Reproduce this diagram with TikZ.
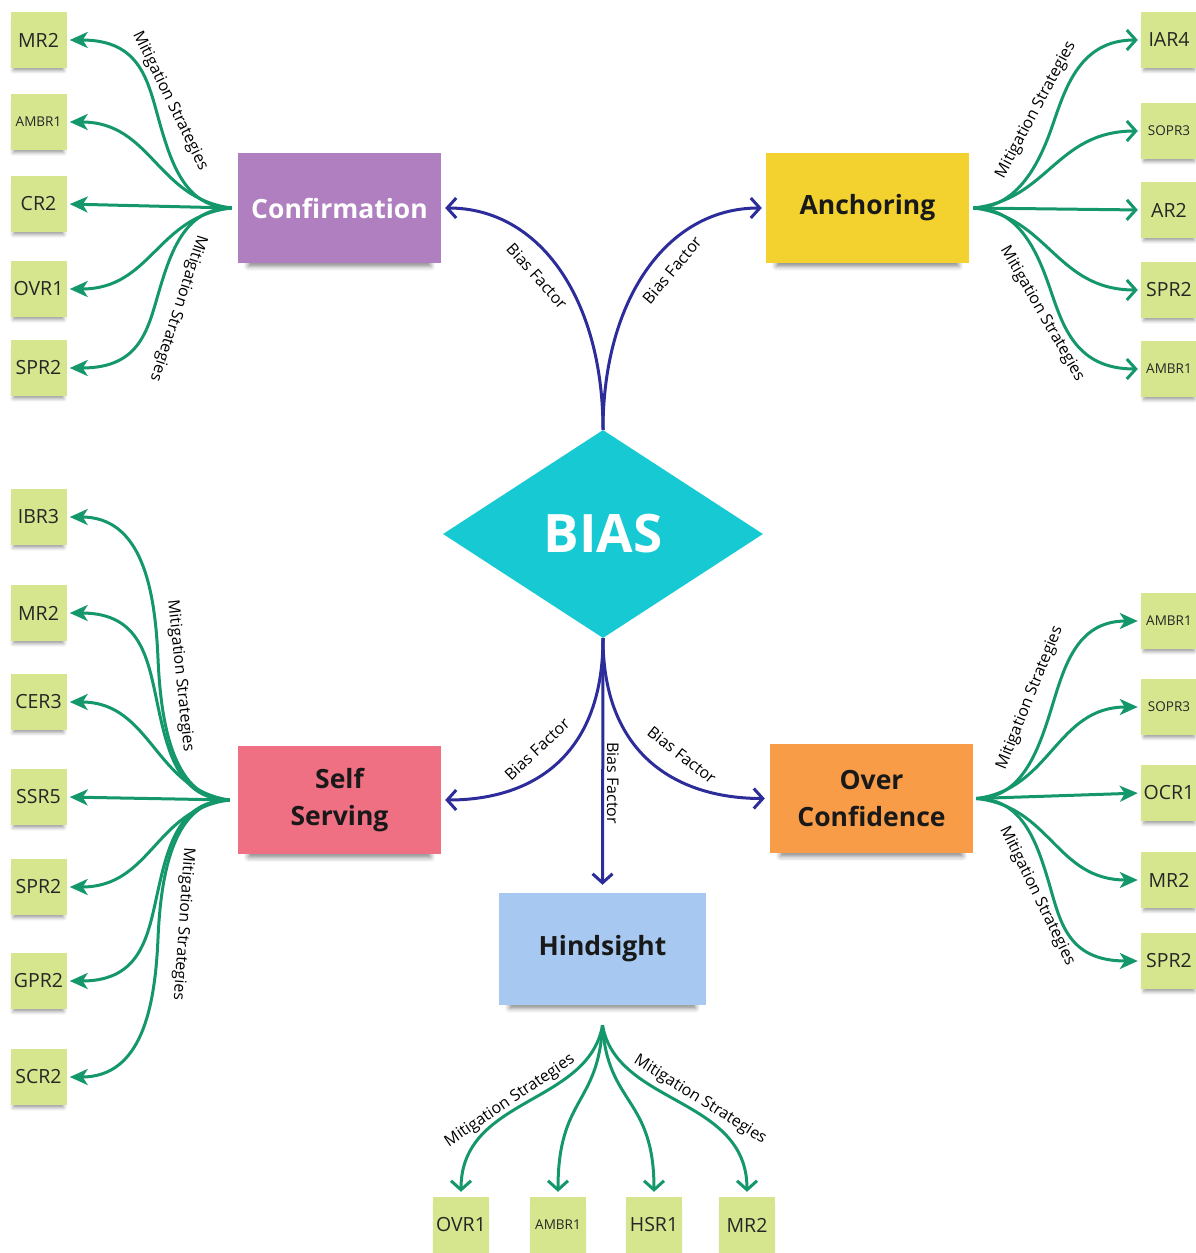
\documentclass[tikz,border=0pt]{standalone}
\usepackage{fontspec}
\setmainfont{Open Sans}
\usetikzlibrary{arrows.meta,shapes.geometric,shadows.blur}

\definecolor{leafc}{HTML}{D5E68E}
\definecolor{confc}{HTML}{AF7FBF}
\definecolor{anchc}{HTML}{F3D230}
\definecolor{selfc}{HTML}{EF6F83}
\definecolor{overc}{HTML}{F89C48}
\definecolor{hindc}{HTML}{A7C9F1}
\definecolor{diamc}{HTML}{16C9D3}
\definecolor{mitc}{HTML}{14976B}
\definecolor{bfc}{HTML}{2C2D9B}

\begin{document}
\begin{tikzpicture}[x=1pt,y=-1pt,
  leafshadow/.style={blur shadow={shadow xshift=0pt,shadow yshift=-6pt,shadow blur radius=4pt,shadow opacity=40,shadow scale=0.9}},
  topicshadow/.style={blur shadow={shadow xshift=0pt,shadow yshift=-10pt,shadow blur radius=5pt,shadow opacity=45,shadow scale=0.9}},
  leaf/.style={rectangle,fill=leafc,minimum width=56pt,minimum height=56pt,inner sep=0pt,
    font=\fontsize{19.5}{21}\selectfont,text=black!85,leafshadow},
  small/.style={font=\fontsize{13.5}{15}\selectfont},
  topic/.style={rectangle,minimum width=203pt,minimum height=110pt,inner sep=0pt,align=center,
    font=\bfseries\fontsize{26.5}{37}\selectfont,text=black!90,topicshadow},
  mit/.style={draw=mitc,line width=3pt,shorten >=3pt,-{Stealth[length=18pt,width=16pt,inset=5pt]}},
  mitopen/.style={draw=mitc,line width=3pt,shorten >=3pt,-{Straight Barb[length=9pt,width=20pt]}},
  bf/.style={draw=bfc,line width=3pt,-{Straight Barb[length=9pt,width=20pt]}},
  lbl/.style={font=\fontsize{16}{18}\selectfont,inner sep=0pt,text=black},
]
\useasboundingbox (0,0) rectangle (1195,1253);

% central bias and the five bias types
\node[diamond,aspect=1.54,fill=diamc,minimum width=320pt,minimum height=208pt,inner sep=0pt,
  text=white,font=\bfseries\fontsize{53}{53}\selectfont] (bias) at (603,534) {BIAS};
\node[topic,fill=confc,text=white] (conf) at (339.5,208) {Confirmation};
\node[topic,fill=anchc] (anch) at (867.5,208) {Anchoring};
\node[topic,fill=selfc,minimum height=108pt] (self) at (339.5,800) {Self\\Serving};
\node[topic,fill=overc,minimum height=109pt] (over) at (871.5,798.5) {Over\\Confidence};
\node[topic,fill=hindc,minimum width=207pt,minimum height=112pt] (hind) at (602.5,949) {Hindsight};

% mitigation strategy notes
\node[leaf] (cl1) at (38.5,40) {MR2};
\node[leaf,small] (cl2) at (38.5,122) {AMBR1};
\node[leaf] (cl3) at (38.5,204) {CR2};
\node[leaf] (cl4) at (38.5,289) {OVR1};
\node[leaf] (cl5) at (38.5,368) {SPR2};

\node[leaf] (al1) at (1169,40) {IAR4};
\node[leaf,small] (al2) at (1169,131) {SOPR3};
\node[leaf] (al3) at (1169,210) {AR2};
\node[leaf] (al4) at (1169,290) {SPR2};
\node[leaf,small] (al5) at (1169,369) {AMBR1};

\node[leaf] (sl1) at (38.5,517) {IBR3};
\node[leaf] (sl2) at (38.5,613) {MR2};
\node[leaf] (sl3) at (38.5,702) {CER3};
\node[leaf] (sl4) at (38.5,797) {SSR5};
\node[leaf] (sl5) at (38.5,887) {SPR2};
\node[leaf] (sl6) at (38.5,981) {GPR2};
\node[leaf] (sl7) at (38.5,1077) {SCR2};

\node[leaf,small] (ol1) at (1169,621) {AMBR1};
\node[leaf,small] (ol2) at (1169,707) {SOPR3};
\node[leaf] (ol3) at (1169,793) {OCR1};
\node[leaf] (ol4) at (1169,880) {MR2};
\node[leaf] (ol5) at (1169,961) {SPR2};

\node[leaf] (hl1) at (461,1225) {OVR1};
\node[leaf,small] (hl2) at (558,1225) {AMBR1};
\node[leaf] (hl3) at (654,1225) {HSR1};
\node[leaf] (hl4) at (747,1225) {MR2};

% bias factor connectors
\draw[bf,shorten >=4pt] (bias.north) .. controls +(0,-130) and +(99,0) .. (conf.east);
\draw[bf,shorten >=4pt] (bias.north) .. controls +(0,-130) and +(-99,0) .. (anch.west);
\draw[bf,shorten >=4pt] (bias.south) .. controls +(0,120) and +(89,0) .. (self.east);
\draw[bf,shorten >=5pt] (bias.south) .. controls +(0,120) and +(-89,0) .. (over.west);
\draw[bf,shorten >=8pt] (bias.south) -- (hind.north);

\node[lbl,rotate=-48] (bf1) at (537,276) {Bias Factor};
\node[lbl,rotate=50] (bf2) at (672,270) {Bias Factor};
\node[lbl,rotate=43] (bf3) at (537,749) {Bias Factor};
\node[lbl,rotate=-90] (bf4) at (613,783) {Bias Factor};
\node[lbl,rotate=-38] (bf5) at (682,755) {Bias Factor};

% fan origins
\coordinate (cf) at ([xshift=-6pt]conf.west);
\coordinate (af) at ([xshift=4pt]anch.east);
\coordinate (sf) at ([xshift=-8pt]self.west);
\coordinate (of) at ([xshift=3pt]over.east);
\coordinate (hf) at ([yshift=-20pt]hind.south);

% confirmation strategies
\draw[mit] (cf) .. controls +(-45,0) and +(12,42) .. (160,124)
  .. controls +(-12,-42) and +(75,0) .. (cl1.east);
\draw[mit] (cf) .. controls +(-75,-9) and +(85,0) .. (cl2.east);
\draw[mit] (cf) -- (cl3.east);
\draw[mit] (cf) .. controls +(-75,8) and +(85,0) .. (cl4.east);
\draw[mit] (cf) .. controls +(-45,0) and +(12,-40) .. (160,288)
  .. controls +(-12,40) and +(75,0) .. (cl5.east);

% anchoring strategies
\draw[mitopen] (af) .. controls +(45,0) and +(-13,38) .. (1053,124)
  .. controls +(13,-38) and +(-60,0) .. (al1.west);
\draw[mitopen] (af) .. controls +(75,-8) and +(-85,0) .. (al2.west);
\draw[mitopen] (af) -- (al3.west);
\draw[mitopen] (af) .. controls +(75,8) and +(-85,0) .. (al4.west);
\draw[mitopen] (af) .. controls +(45,0) and +(-13,-38) .. (1050,288.5)
  .. controls +(13,38) and +(-65,0) .. (al5.west);

% self serving strategies
\draw[mit] (sf) .. controls +(-55,0) and +(3,70) .. (158,658.5)
  .. controls +(-3,-70) and +(75,0) .. (sl1.east);
\draw[mit] (sf) .. controls +(-50,0) and +(10,47) .. (158,706.5)
  .. controls +(-10,-47) and +(75,0) .. (sl2.east);
\draw[mit] (sf) .. controls +(-75,-10) and +(85,0) .. (sl3.east);
\draw[mit] (sf) -- (sl4.east);
\draw[mit] (sf) .. controls +(-75,9) and +(85,0) .. (sl5.east);
\draw[mit] (sf) .. controls +(-50,0) and +(10,-45) .. (158,890.5)
  .. controls +(-10,45) and +(75,0) .. (sl6.east);
\draw[mit] (sf) .. controls +(-55,0) and +(3,-69) .. (158,938.5)
  .. controls +(-3,69) and +(75,0) .. (sl7.east);

% over confidence strategies
\draw[mit] (of) .. controls +(45,0) and +(-13,42) .. (1051,709.75)
  .. controls +(13,-42) and +(-65,0) .. (ol1.west);
\draw[mit] (of) .. controls +(75,-9) and +(-85,0) .. (ol2.west);
\draw[mit] (of) -- (ol3.west);
\draw[mit] (of) .. controls +(75,8) and +(-85,0) .. (ol4.west);
\draw[mit] (of) .. controls +(45,0) and +(-12,-40) .. (1048,879.75)
  .. controls +(12,40) and +(-75,0) .. (ol5.west);

% hindsight strategies
\draw[mitopen,shorten >=5pt] (hf) .. controls +(-14,80) and +(0,-100) .. (hl1.north);
\draw[mitopen,shorten >=5pt] (hf) .. controls +(-4,80) and +(0,-100) .. (hl2.north);
\draw[mitopen,shorten >=5pt] (hf) .. controls +(5,80) and +(0,-100) .. (hl3.north);
\draw[mitopen,shorten >=5pt] (hf) .. controls +(14,80) and +(0,-100) .. (hl4.north);

% strategy labels
\node[lbl,rotate=-64] (m1) at (170,101) {Mitigation Strategies};
\node[lbl,rotate=-108] (m2) at (178,308) {Mitigation Strategies};
\node[lbl,rotate=62] (m3) at (1036,110) {Mitigation Strategies};
\node[lbl,rotate=-60] (m4) at (1042,314) {Mitigation Strategies};
\node[lbl,rotate=-84] (m5) at (180,676) {Mitigation Strategies};
\node[lbl,rotate=-94] (m6) at (183,924) {Mitigation Strategies};
\node[lbl,rotate=68] (m7) at (1030,698) {Mitigation Strategies};
\node[lbl,rotate=-64] (m8) at (1037,896) {Mitigation Strategies};
\node[lbl,rotate=34] (m9) at (510,1101) {Mitigation Strategies};
\node[lbl,rotate=-32] (m10) at (700,1100) {Mitigation Strategies};
\end{tikzpicture}
\end{document}
